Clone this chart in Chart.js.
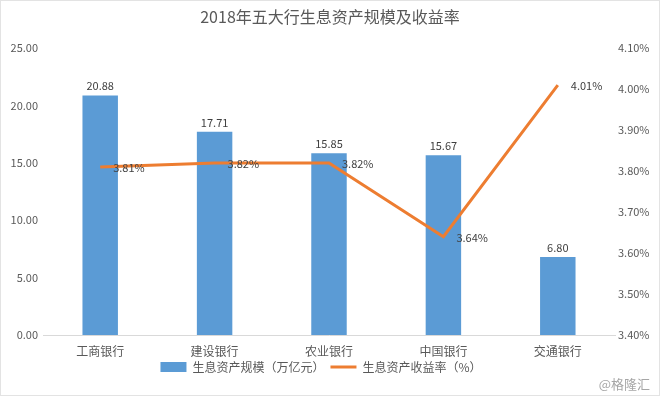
<!DOCTYPE html>
<html>
<head>
<meta charset="utf-8">
<script src="https://cdn.jsdelivr.net/npm/chart.js@4/dist/chart.umd.min.js"></script>
<style>
  body { margin: 0; background: #fff; }
</style>
</head>
<body>
<canvas id="grafico" width="660" height="396"></canvas>
<script>
// dados do gráfico
const bancos = ['工商银行', '建设银行', '农业银行', '中国银行', '交通银行'];
const ativos = [20.88, 17.71, 15.85, 15.67, 6.80];
const rendimento = [3.81, 3.82, 3.82, 3.64, 4.01];

const corTexto = '#595959';
const fonte = '"Noto Sans CJK SC", "Noto Sans", sans-serif';

// rótulos dos valores + moldura + marca d'água
const rotulos = {
  id: 'rotulos',
  beforeDraw(chart) {
    const ctx = chart.ctx;
    ctx.save();
    ctx.fillStyle = '#fff';
    ctx.fillRect(0, 0, chart.width, chart.height);
    ctx.strokeStyle = '#e3e3e3';
    ctx.lineWidth = 1;
    ctx.strokeRect(0.5, 0.5, chart.width - 1, chart.height - 1);
    ctx.restore();
  },
  afterDatasetsDraw(chart) {
    const ctx = chart.ctx;
    ctx.save();
    ctx.font = '11px ' + fonte;
    ctx.fillStyle = '#404040';
    chart.getDatasetMeta(0).data.forEach((bar, i) => {
      ctx.textAlign = 'center';
      ctx.textBaseline = 'bottom';
      ctx.fillText(ativos[i].toFixed(2), bar.x, bar.y - 4);
    });
    chart.getDatasetMeta(1).data.forEach((pt, i) => {
      ctx.textAlign = 'left';
      ctx.textBaseline = 'middle';
      ctx.fillText(rendimento[i].toFixed(2) + '%', pt.x + 13, pt.y + 1);
    });
    ctx.font = '13px ' + fonte;
    ctx.fillStyle = '#a6a6a6';
    ctx.textAlign = 'right';
    ctx.textBaseline = 'middle';
    ctx.fillText('@格隆汇', 650, 384);
    ctx.restore();
  }
};

var ctx = document.getElementById('grafico').getContext('2d');
var grafico = new Chart(ctx, {
  type: 'bar',
  data: {
    labels: bancos,
    datasets: [{
      type: 'bar',
      label: '生息资产规模（万亿元）',
      data: ativos,
      backgroundColor: '#5b9bd5',
      barPercentage: 0.62,
      categoryPercentage: 0.5,
      yAxisID: 'y',
      pointStyle: 'rect',
      order: 2
    }, {
      type: 'line',
      label: '生息资产收益率（%）',
      data: rendimento,
      borderColor: '#ed7d31',
      backgroundColor: '#ed7d31',
      borderWidth: 3,
      pointRadius: 0,
      pointStyle: 'line',
      tension: 0,
      yAxisID: 'y1',
      order: 1
    }]
  },
  options: {
    responsive: false,
    animation: false,
    layout: { padding: { left: 0, right: 0, top: 0, bottom: 13 } },
    plugins: {
      title: {
        display: true,
        text: '2018年五大行生息资产规模及收益率',
        color: corTexto,
        font: { family: fonte, size: 16, weight: 'normal' },
        padding: { top: 7, bottom: 22 }
      },
      legend: {
        position: 'bottom',
        labels: {
          usePointStyle: true,
          pointStyleWidth: 26,
          boxHeight: 10,
          color: corTexto,
          padding: 0,
          font: { family: fonte, size: 12, lineHeight: 1 },
          sort: (a, b) => a.datasetIndex - b.datasetIndex,
          // espaço entre os itens da legenda
          generateLabels: chart => Chart.defaults.plugins.legend.labels.generateLabels(chart)
            .map((item, i) => { item.text += i == 0 ? '\u3000\u3000' : '\u3000'; return item; })
        }
      },
      tooltip: { enabled: false }
    },
    scales: {
      x: {
        grid: { display: false, drawTicks: false },
        border: { display: true, color: '#d9d9d9' },
        ticks: { color: corTexto, padding: 10, font: { family: fonte, size: 12, lineHeight: 1 } },
        afterFit: s => { s.height = 26; }
      },
      y: {
        position: 'left',
        min: 0,
        max: 25,
        grid: { display: false, drawTicks: false },
        border: { display: false },
        ticks: {
          stepSize: 5,
          color: corTexto,
          padding: 5,
          font: { family: fonte, size: 11 },
          callback: v => v.toFixed(2)
        },
        afterFit: s => { s.width = 43; }
      },
      y1: {
        position: 'right',
        min: 3.4,
        max: 4.1,
        grid: { display: false, drawTicks: false },
        border: { display: false },
        ticks: {
          stepSize: 0.1,
          color: corTexto,
          padding: 3,
          font: { family: fonte, size: 11 },
          callback: v => v.toFixed(2) + '%'
        },
        afterFit: s => { s.width = 45; }
      }
    }
  },
  plugins: [rotulos]
});
</script>
</body>
</html>
